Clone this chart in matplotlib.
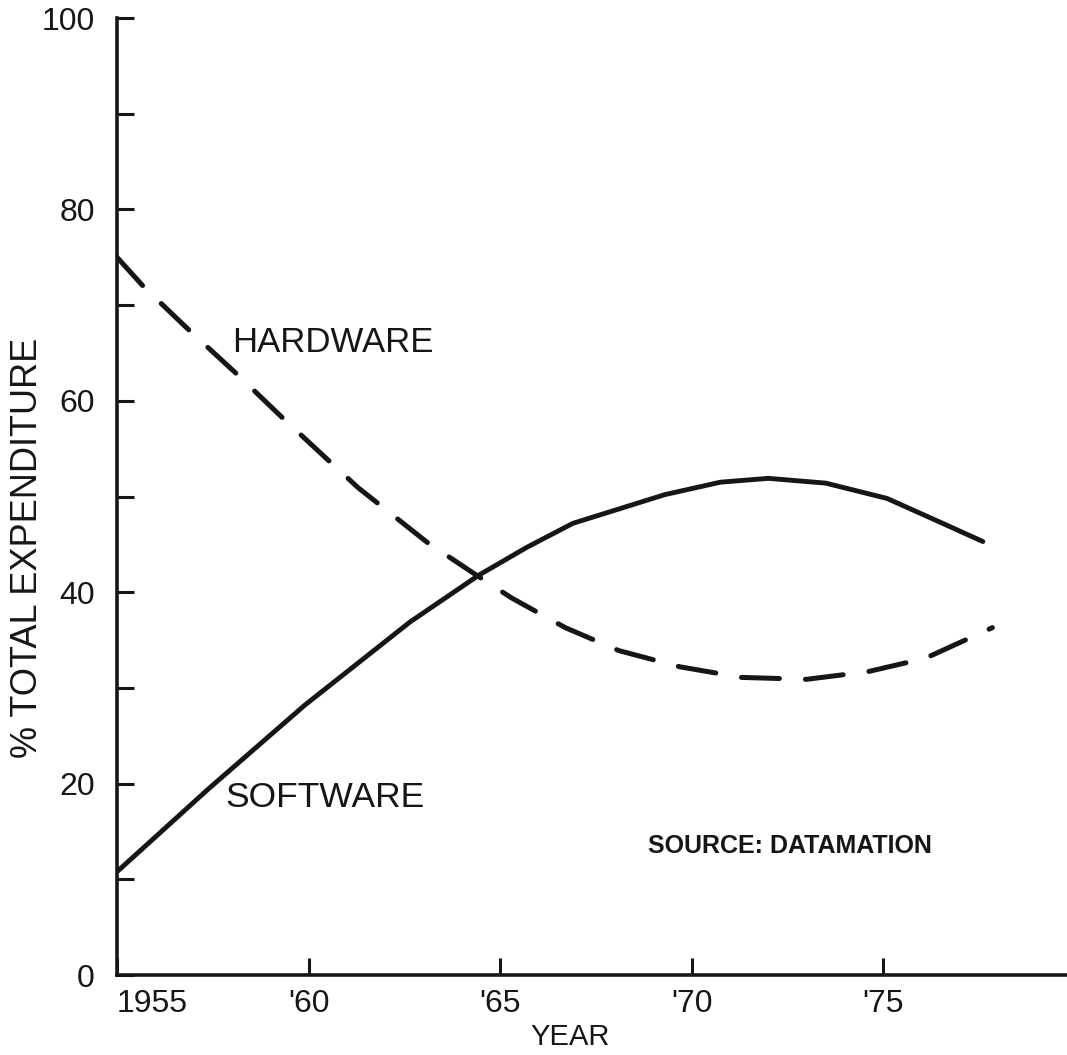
import matplotlib
matplotlib.use("Agg")
import matplotlib.pyplot as plt

# values (% of total expenditure)
hw_years = [1955.0, 1955.7, 1956.85, 1958.1, 1959.3, 1960.7, 1961.3, 1963.1, 1964.3,
            1965.3, 1966.7, 1968.1, 1969.7, 1971.3, 1973.0, 1974.6, 1976.1, 1977.85]
hw_share = [75.0, 71.9, 67.5, 62.9, 58.3, 53.1, 50.9, 45.2, 42.0,
            39.4, 36.3, 33.9, 32.2, 31.1, 30.9, 31.7, 33.1, 36.3]

sw_years = [1955.0, 1957.4, 1959.9, 1962.65, 1964.45, 1965.7, 1966.9, 1969.3,
            1970.75, 1972.0, 1973.5, 1975.1, 1976.55, 1977.6]
sw_share = [10.8, 19.5, 28.2, 36.9, 41.8, 44.7, 47.2, 50.2,
            51.5, 51.9, 51.4, 49.8, 47.2, 45.3]

x_ticks = [1955, 1960, 1965, 1970, 1975]
x_tick_labels = ["1955", "'60", "'65", "'70", "'75"]
y_ticks = [0, 20, 40, 60, 80, 100]
y_minor = [10, 30, 50, 70, 90]

ink = "#161616"
plt.rcParams["font.family"] = ["Liberation Sans", "DejaVu Sans"]

fig = plt.figure(figsize=(10.67, 10.55), dpi=100)
ax = fig.add_axes([0.1097, 0.0758, 0.8904, 0.9071])

ax.plot(hw_years, hw_share, color=ink, lw=3.6, dashes=(7.6, 5.2),
        dash_capstyle="round")
ax.plot(sw_years, sw_share, color=ink, lw=3.5, solid_capstyle="round")

ax.set_xlim(1955, 1979.8)
ax.set_ylim(0, 100)

for side in ["top", "right"]:
    ax.spines[side].set_visible(False)
for side in ["left", "bottom"]:
    ax.spines[side].set_linewidth(2.6)
    ax.spines[side].set_color(ink)

ax.set_xticks(x_ticks)
ax.set_xticklabels(x_tick_labels)
ax.set_yticks(y_ticks)
ax.set_yticks(y_minor, minor=True)
ax.tick_params(axis="both", which="both", direction="in", length=12, width=2.2,
               color=ink, labelcolor=ink)
ax.tick_params(axis="y", which="major", labelsize=23, pad=16)
ax.tick_params(axis="x", which="major", labelsize=23, pad=10)
ax.get_xticklabels()[0].set_ha("left")

ax.set_xlabel("YEAR", fontsize=21, color=ink, va="center")
ax.xaxis.set_label_coords(0.477, -0.065)
ax.set_ylabel("% TOTAL EXPENDITURE", fontsize=26, color=ink)
ax.yaxis.set_label_coords(-0.076, 0.446)

ax.text(1960.64, 66.1, "HARDWARE", fontsize=25, color=ink, ha="center", va="center")
ax.text(1960.43, 18.5, "SOFTWARE", fontsize=25.5, color=ink, ha="center", va="center")
ax.text(1972.57, 13.5, "SOURCE: DATAMATION", fontsize=18, fontweight="bold",
        color=ink, ha="center", va="center")

fig.savefig("out.png", dpi=100, facecolor="white")
